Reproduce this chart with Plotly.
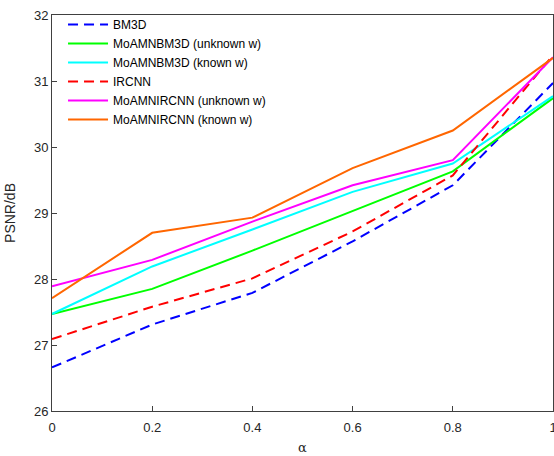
import plotly.graph_objects as go

alpha = [0, 0.2, 0.4, 0.6, 0.8, 1.0]
bm3d = [26.66, 27.31, 27.79, 28.57, 29.42, 30.97]
moam_bm3d_unknown = [27.47, 27.85, 28.43, 29.03, 29.63, 30.74]
moam_bm3d_known = [27.47, 28.19, 28.75, 29.32, 29.75, 30.77]
ircnn = [27.09, 27.58, 28.01, 28.72, 29.57, 31.39]
moam_ircnn_unknown = [27.89, 28.29, 28.87, 29.42, 29.80, 31.36]
moam_ircnn_known = [27.71, 28.70, 28.93, 29.68, 30.25, 31.35]

names = ["BM3D", "MoAMNBM3D (unknown w)", "MoAMNBM3D (known w)", "IRCNN",
         "MoAMNIRCNN (unknown w)", "MoAMNIRCNN (known w)"]
series = [bm3d, moam_bm3d_unknown, moam_bm3d_known, ircnn, moam_ircnn_unknown, moam_ircnn_known]
colors = ["#0000FF", "#00FF00", "#00FFFF", "#FF0000", "#FF00FF", "#FF6600"]
dashes = ["10px,6px", "solid", "solid", "10px,6px", "solid", "solid"]

fig = go.Figure()
for n, s, c, d in zip(names, series, colors, dashes):
    fig.add_trace(go.Scatter(x=alpha, y=s, mode="lines", name=n,
                             line=dict(color=c, width=2, dash=d)))

axis_color = "#404040"
fig.update_layout(
    width=554, height=456,
    margin=dict(l=52, r=1, t=15, b=45),
    paper_bgcolor="white", plot_bgcolor="white",
    font=dict(family="Liberation Sans, Arial, sans-serif", size=13, color="#262626"),
    showlegend=True,
    legend=dict(x=0.022, y=1.0125, xanchor="left", yanchor="top",
                bgcolor="rgba(255,255,255,0)", borderwidth=0,
                font=dict(size=12, color="#000000"), tracegroupgap=0,
                itemwidth=40),
    xaxis=dict(range=[0, 1], tickvals=[0, 0.2, 0.4, 0.6, 0.8, 1],
               ticktext=["0", "0.2", "0.4", "0.6", "0.8", "1"],
               ticks="inside", ticklen=5, tickcolor=axis_color,
               showline=True, linecolor=axis_color, linewidth=1, mirror=True,
               showgrid=False, zeroline=False, automargin=False,
               ticklabeloverflow="allow", ticklabelstandoff=4),
    yaxis=dict(range=[26, 32], tickvals=[26, 27, 28, 29, 30, 31, 32],
               ticks="inside", ticklen=5, tickcolor=axis_color,
               showline=True, linecolor=axis_color, linewidth=1, mirror=True,
               showgrid=False, zeroline=False, automargin=False,
               ticklabeloverflow="allow"),
    annotations=[
        dict(text="α", xref="paper", yref="paper", x=0.5, y=-0.093,
             xanchor="center", yanchor="middle", showarrow=False,
             font=dict(family="DejaVu Serif, serif", size=13, color="#262626")),
        dict(text="PSNR/dB", xref="paper", yref="paper", x=-0.084, y=0.5,
             xanchor="center", yanchor="middle", showarrow=False, textangle=-90,
             font=dict(size=14, color="#262626")),
    ],
)

fig.write_html("out.html", config={"displayModeBar": False},
               post_script="document.body.style.margin='0';document.body.style.overflow='hidden';")
